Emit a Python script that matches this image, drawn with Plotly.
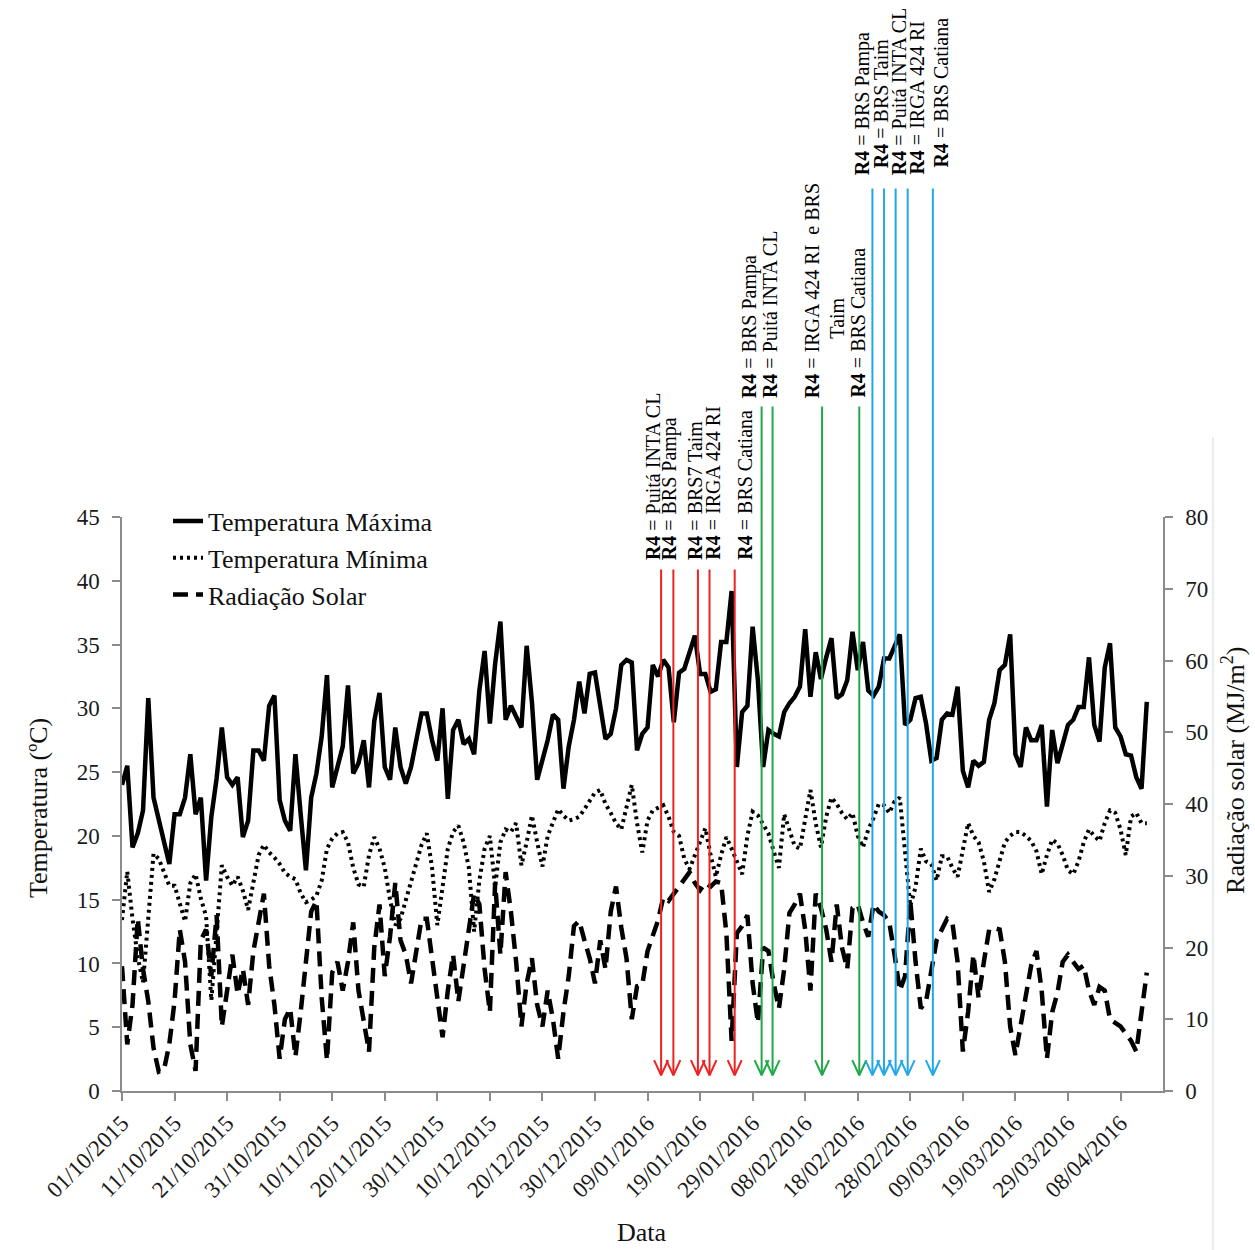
import pandas as pd
import plotly.graph_objects as go

# ---------------- data ----------------
start_date = "2015-10-01"

tmax = [24.0, 25.5, 19.1, 20.2, 22.0, 30.8, 23.0, 21.2, 19.4, 17.8,
        21.7, 21.7, 23.0, 26.4, 21.7, 23.0, 16.5, 21.5, 24.5, 28.5,
        24.6, 24.0, 24.6, 19.9, 21.2, 26.7, 26.7, 25.9, 30.2, 31.0,
        22.8, 21.2, 20.4, 26.4, 21.7, 17.3, 23.0, 24.9, 27.8, 32.6,
        23.8, 25.4, 27.0, 31.8, 24.9, 25.7, 27.5, 23.8, 29.0, 31.2,
        25.4, 24.4, 28.5, 25.4, 24.1, 25.4, 27.5, 29.6, 29.6, 27.5,
        25.9, 30.0, 22.9, 28.3, 29.1, 27.2, 27.6, 26.4, 31.4, 34.5,
        28.8, 33.5, 36.8, 29.1, 30.2, 29.3, 28.5, 34.9, 30.5, 24.4,
        25.9, 27.5, 29.5, 29.1, 23.7, 27.0, 29.1, 32.1, 29.6, 32.7,
        32.8, 30.0, 27.6, 28.0, 30.0, 33.4, 33.8, 33.6, 26.7, 28.0,
        28.5, 33.4, 32.5, 33.8, 33.2, 28.9, 32.8, 33.1, 34.5, 35.7,
        32.7, 32.7, 31.3, 31.5, 35.2, 35.2, 39.2, 25.4, 29.7, 30.2,
        36.4, 32.2, 25.4, 28.3, 28.0, 27.8, 29.7, 30.4, 30.9, 31.7,
        36.2, 30.9, 34.4, 32.3, 34.0, 35.5, 30.8, 31.1, 32.2, 36.0,
        33.0, 35.2, 31.4, 31.0, 31.7, 33.9, 33.9, 34.8, 35.8, 28.7,
        29.1, 30.8, 30.9, 28.8, 25.9, 26.1, 29.1, 29.6, 29.5, 31.7,
        25.1, 23.8, 25.9, 25.5, 25.8, 29.1, 30.4, 33.0, 33.4, 35.8,
        26.4, 25.4, 28.5, 27.5, 27.5, 28.7, 22.3, 28.3, 25.7, 27.2,
        28.7, 29.1, 30.1, 30.1, 34.0, 28.7, 27.4, 33.2, 35.1, 28.5,
        27.8, 26.4, 26.3, 24.6, 23.7, 30.5]

tmin = [13.4, 17.2, 13.5, 10.5, 8.5, 14.0, 18.6, 18.2, 17.2, 16.1,
        16.1, 14.7, 13.3, 16.3, 17.0, 15.1, 13.7, 7.1, 12.5, 17.7,
        16.8, 16.1, 16.8, 15.7, 14.2, 16.5, 18.5, 19.3, 18.7, 18.3,
        17.8, 17.1, 16.8, 16.6, 15.5, 14.8, 15.0, 15.3, 16.5, 19.0,
        19.8, 20.2, 20.3, 19.5, 17.5, 16.2, 16.0, 18.5, 19.9, 19.0,
        17.5, 15.0, 13.0, 13.5, 15.0, 16.5, 18.0, 19.3, 20.2, 17.5,
        13.0, 16.0, 19.0, 20.3, 20.8, 19.5, 17.5, 12.5, 16.5, 19.0,
        20.0, 16.0, 19.5, 20.5, 20.3, 21.0, 17.7, 19.5, 21.6, 19.5,
        17.6, 20.0, 21.0, 22.1, 21.6, 21.2, 21.3, 21.5, 22.1, 22.7,
        23.4, 23.6, 22.5, 21.8, 21.0, 20.5, 22.4, 24.0, 21.0, 18.7,
        21.2, 22.0, 22.2, 22.4, 21.5, 20.3, 20.0, 18.2, 17.4, 18.5,
        19.5, 20.6, 18.5, 16.8, 18.5, 19.9, 19.0, 18.0, 17.0, 20.0,
        21.9, 21.6, 20.9, 20.2, 18.8, 17.5, 21.7, 20.5, 19.2, 19.0,
        21.5, 23.6, 21.0, 19.1, 21.5, 23.0, 22.5, 21.8, 21.3, 21.8,
        20.0, 19.1, 20.5, 21.4, 22.5, 22.4, 21.8, 22.7, 23.0, 18.5,
        14.5, 16.0, 19.0, 18.0, 17.8, 16.5, 18.4, 18.4, 17.5, 16.8,
        19.0, 21.0, 20.0, 19.5, 18.0, 15.6, 16.6, 18.0, 19.5, 20.0,
        20.3, 20.3, 20.0, 19.6, 18.8, 17.0, 18.5, 19.7, 19.4, 18.5,
        17.3, 17.0, 18.0, 19.5, 20.5, 20.0, 19.6, 21.0, 22.0, 21.8,
        20.5, 18.5, 21.5, 21.8, 21.0, 21.0]

radiacao = [17.4, 6.5, 12.0, 24.0, 17.0, 12.5, 6.0, 2.7, 3.0, 6.5,
            12.5, 22.5, 18.0, 6.5, 2.8, 21.0, 22.5, 16.0, 24.5, 9.0,
            14.0, 19.0, 13.5, 17.0, 12.0, 19.5, 23.5, 27.5, 17.5, 12.0,
            4.5, 10.0, 11.5, 4.8, 11.0, 18.0, 25.0, 26.5, 13.0, 4.3,
            16.5, 18.0, 14.0, 18.0, 23.5, 14.0, 10.0, 5.5, 20.0, 26.0,
            16.0, 21.5, 29.0, 21.0, 19.0, 15.0, 19.5, 24.0, 24.0, 18.5,
            13.0, 7.5, 14.0, 19.0, 12.5, 17.5, 23.0, 27.5, 26.0, 17.0,
            11.0, 29.0, 19.0, 30.5, 25.0, 18.0, 9.0, 15.0, 18.5, 12.0,
            9.0, 14.0, 10.0, 4.5, 11.0, 16.0, 23.0, 23.7, 21.0, 18.5,
            15.0, 21.0, 17.0, 25.0, 28.5, 22.8, 18.5, 10.0, 14.6, 14.8,
            19.5, 21.5, 23.8, 27.0, 26.5, 27.5, 28.5, 29.5, 30.5, 29.0,
            28.0, 29.0, 28.5, 29.2, 29.0, 22.0, 7.0, 22.0, 23.0, 24.5,
            15.0, 9.5, 20.0, 19.5, 15.0, 11.5, 17.0, 24.8, 26.0, 27.5,
            22.5, 14.0, 27.5, 25.5, 22.5, 18.0, 26.0, 20.0, 17.0, 25.5,
            26.0, 23.5, 21.5, 26.0, 25.0, 24.5, 23.5, 19.0, 14.0, 16.0,
            26.5, 18.0, 11.5, 12.5, 17.0, 21.0, 22.5, 24.0, 23.5, 18.0,
            5.5, 11.0, 19.0, 13.0, 18.0, 22.5, 22.7, 22.5, 18.0, 9.0,
            5.0, 9.0, 13.0, 17.5, 19.5, 14.0, 4.5, 11.0, 13.7, 18.0,
            19.0, 18.0, 17.0, 17.5, 14.0, 12.0, 14.5, 14.0, 10.0, 9.5,
            9.0, 8.0, 7.0, 5.5, 11.0, 16.5]

# R4 (phenological stage) event dates, per group
r4_red_dates = ["2016-01-11 14:00", "2016-01-13 22:00", "2016-01-18 14:00",
                "2016-01-20 19:00", "2016-01-25 14:00"]
r4_red_labels = ["Puitá INTA CL", "BRS Pampa", "BRS7 Taim", "IRGA 424 RI", "BRS Catiana"]

r4_green_dates = ["2016-01-30 17:00", "2016-02-01 19:00", "2016-02-11 05:00",
                  "2016-02-18 07:00"]
r4_green_labels = ["BRS Pampa", "Puitá INTA CL", "IRGA 424 RI  e BRS", "BRS Catiana"]

r4_blue_dates = ["2016-02-20 19:00", "2016-02-23 00:00", "2016-02-25 05:00",
                 "2016-02-27 12:00", "2016-03-03 07:00"]
r4_blue_labels = ["BRS Pampa", "BRS Taim", "Puitá INTA CL", "IRGA 424 RI", "BRS Catiana"]

legend_names = ["Temperatura Máxima", "Temperatura Mínima", "Radiação Solar"]

# ---------------- figure ----------------
FONT = "Liberation Serif"
dates = pd.date_range(start_date, periods=len(tmax), freq="D")
assert len(tmax) == len(tmin) == len(radiacao)

fig = go.Figure()
fig.add_trace(go.Scatter(x=dates, y=tmax, name=legend_names[0], mode="lines",
                         line=dict(color="black", width=4.5)))
fig.add_trace(go.Scatter(x=dates, y=tmin, name=legend_names[1], mode="lines",
                         line=dict(color="black", width=4, dash="3px,4px")))
fig.add_trace(go.Scatter(x=dates, y=radiacao, name=legend_names[2], mode="lines",
                         yaxis="y2", line=dict(color="black", width=4.5, dash="15px,8px")))

RED, GREEN, BLUE = "#ee2222", "#20a84a", "#22a8e8"
TIP = 2.2          # arrow tip (radiation-axis units)
HEAD_H = 2.1       # arrow head height (radiation-axis units)
HEAD_W = pd.Timedelta(hours=32)

groups = [
    (r4_red_dates, r4_red_labels, RED, 72.9, 0.9216, [-8.5, -3.6, -3.3, 3.2, 10.0]),
    (r4_green_dates, r4_green_labels, GREEN, 95.6, 1.2038, [-12.0, -3.0, -10.4, -1.7]),
    (r4_blue_dates, r4_blue_labels, BLUE, 126.0, 1.5923, [-9.8, -3.4, 3.0, 8.9, 7.7]),
]

annotations = []
for dts, labs, col, top, ylab, shifts in groups:
    hx, hy = [], []
    for d, lab, sh in zip(dts, labs, shifts):
        t = pd.Timestamp(d)
        annotations.append(dict(x=t, y=TIP, xref="x", yref="y2", ax=t, ay=top,
                                axref="x", ayref="y2", text="", showarrow=True,
                                arrowhead=0, arrowwidth=2, arrowcolor=col))
        hx += [t - HEAD_W, t, t + HEAD_W, None]
        hy += [TIP + HEAD_H, TIP, TIP + HEAD_H, None]
        yl = ylab
        if col == BLUE and lab in ("BRS Taim", "BRS Catiana"):
            yl = 1.6045
        annotations.append(dict(x=t, xref="x", xshift=sh, y=yl, yref="paper",
                                text="<b>R4</b> = " + lab, textangle=-90,
                                showarrow=False, xanchor="center", yanchor="bottom",
                                font=dict(family=FONT, size=20, color="black")))
        if lab.endswith("e BRS"):
            annotations.append(dict(x=t, xref="x", xshift=sh + 25, y=1.3467, yref="paper",
                                    text="Taim", textangle=-90, showarrow=False,
                                    xanchor="center", yanchor="middle",
                                    font=dict(family=FONT, size=20, color="black")))
    fig.add_trace(go.Scatter(x=hx, y=hy, yaxis="y2", mode="lines", showlegend=False,
                             hoverinfo="skip", line=dict(color=col, width=2)))

# axis titles
annotations += [
    dict(text="Temperatura (ºC)", x=-0.0807, y=0.493, xref="paper", yref="paper",
         textangle=-90, showarrow=False, xanchor="center", yanchor="middle",
         font=dict(family=FONT, size=26, color="#111")),
    dict(text="Radiação solar (MJ/m<sup>2</sup>)", x=1.067, y=0.559, xref="paper", yref="paper",
         textangle=-90, showarrow=False, xanchor="center", yanchor="middle",
         font=dict(family=FONT, size=26, color="#111")),
    dict(text="Data", x=0.4995, y=-0.247, xref="paper", yref="paper",
         showarrow=False, xanchor="center", yanchor="middle",
         font=dict(family=FONT, size=26, color="#111")),
]

axis_common = dict(showgrid=False, zeroline=False, showline=True, linecolor="#8c8c8c",
                   linewidth=1.5, ticks="outside", ticklen=8, tickcolor="#8c8c8c",
                   tickwidth=1.5, tickfont=dict(family=FONT, size=23, color="#1a1a1a"))

fig.update_layout(
    width=1255, height=1250,
    margin=dict(l=122, r=92, t=517, b=159, autoexpand=False),
    paper_bgcolor="white", plot_bgcolor="white",
    font=dict(family=FONT, size=23, color="#1a1a1a"),
    legend=dict(x=0.0442, y=1.034, xanchor="left", yanchor="top",
                bgcolor="rgba(0,0,0,0)", font=dict(family=FONT, size=26, color="#111"),
                tracegroupgap=0),
    xaxis=dict(type="date", range=["2015-10-01", "2016-04-16 02:00"],
               tick0="2015-10-01", dtick=10 * 86400000, tickformat="%d/%m/%Y",
               tickangle=-45, **axis_common),
    yaxis=dict(range=[0, 45], dtick=5, ticklabelstandoff=8, **axis_common),
    yaxis2=dict(range=[0, 80], dtick=10, overlaying="y", side="right",
                ticklabelstandoff=8, **axis_common),
    annotations=annotations,
    shapes=[dict(type="line", xref="paper", yref="paper", x0=1.048, x1=1.048,
                 y0=-0.277, y1=1.139, line=dict(color="#d6d6d6", width=1))],
)

fig.write_html("out.html")
